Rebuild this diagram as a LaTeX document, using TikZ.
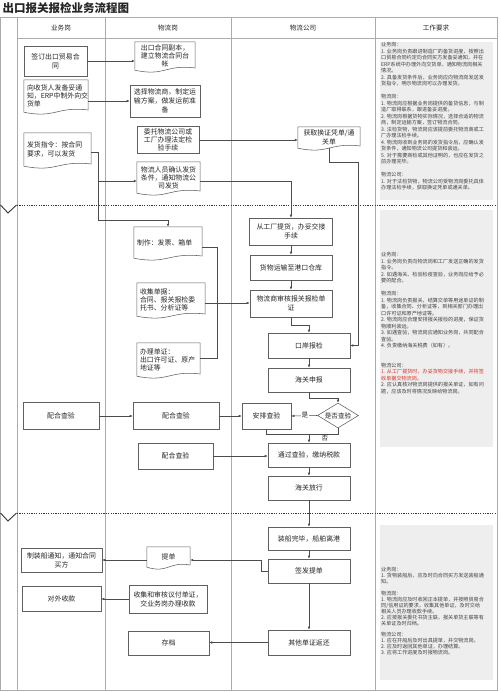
\documentclass[tikz,border=0pt]{standalone}
\usepackage{fontspec}
\setmainfont{Noto Sans CJK SC}
\usetikzlibrary{arrows.meta,calc,shapes.geometric}
\newcommand\boxf{\fontsize{6.9}{8.8}\selectfont}
\newcommand\boxft{\fontsize{6.9}{8.1}\selectfont}
\newcommand\notef{\fontsize{5.1}{6.5}\selectfont}
\newcommand\notefb{\fontsize{5.1}{5.9}\selectfont}
\definecolor{redtxt}{HTML}{D9342B}
\newcommand\docwave[1]{\draw[docline] (#1.south west) -- (#1.north west) -- (#1.north east) -- ($(#1.south east)+(0,-2.2)$) .. controls ($(#1.south)+(0,-6)$) and ($(#1.south)+(0,6.5)$) .. (#1.south west) -- cycle;}
\begin{document}
\begin{tikzpicture}[x=1pt,y=-1pt,
 every node/.style={text=black!85},
 bx/.style={draw=gray!75!black, line width=0.55pt, inner sep=0pt, align=center, font=\boxf},
 dc/.style={inner sep=0pt, align=center, font=\boxf},
 dcl/.style={inner ysep=0pt, inner xsep=3pt, align=left, font=\boxf},
 docline/.style={draw=gray!75!black, line width=0.55pt},
 ln/.style={draw=black!70, line width=0.55pt},
 fl/.style={ln, -{Latex[length=3pt,width=2.6pt]}},
 lane/.style={draw=gray!65, line width=0.7pt},
 phase/.style={draw=black!80, line width=0.9pt, dash pattern=on 1.2pt off 1.2pt},
 hdr/.style={font=\fontsize{6.6}{8}\selectfont, inner sep=0pt},
 note/.style={anchor=north west, align=left, inner sep=0pt, text=black!75},
]
\useasboundingbox (0,0) rectangle (500,692);
\fill[white] (0,0) rectangle (500,692);
% title
\node[anchor=west, font=\fontsize{11.5}{12}\selectfont\bfseries, inner sep=0pt] (title) at (2.5,8.5) {出口报关报检业务流程图};
% note backgrounds
\fill[gray!13] (380,42) rectangle (493,200);
\fill[gray!13] (380,210) rectangle (493,447);
\fill[gray!13] (380,525) rectangle (493,680);
% frame and lanes
\draw[lane] (0.5,17) rectangle (497,690);
\foreach \xx in {17,105,231,375} \draw[lane] (\xx,17) -- (\xx,690);
\draw[lane] (17,38) -- (497,38);
\node[hdr] (h1) at (61,28) {业务岗};
\node[hdr] (h2) at (168,28) {物流岗};
\node[hdr] (h3) at (303,28) {物流公司};
\node[hdr] (h4) at (436,28) {工作要求};
% phase separators
\draw[phase] (17,205) -- (497,205);
\draw[phase] (17,513) -- (497,513);
\draw[black!80, line width=0.9pt] (0.5,205) -- (8,213) -- (16.5,205);
\draw[black!80, line width=0.9pt] (0.5,513) -- (8,521) -- (16.5,513);

% ---------- phase 1 ----------
\node[bx, minimum width=63, minimum height=30] (n1) at (55.5,61) {签订出口贸易合\\同};
\node[dc, font=\boxft, minimum width=60, minimum height=28] (d1) at (165,56) {出口合同副本，\\建立物流合同台\\帐}; \docwave{d1}
\node[dcl, font=\boxft, text width=58, minimum height=32] (d2) at (56,96) {向收货人发备妥通\\知，ERP中制外向交\\货单}; \docwave{d2}
\node[bx, minimum width=70, minimum height=32] (n2) at (165,101) {选择物流商，制定运\\输方案，做发运前准\\备};
\node[bx, font=\boxft, minimum width=62, minimum height=27] (n3) at (168,140) {委托物流公司或\\工厂办理法定检\\验手续};
\node[dc, minimum width=62, minimum height=21] (d3) at (329,137.5) {获取换证凭单/通\\关单}; \docwave{d3}
\node[dcl, text width=61, minimum height=33] (d4) at (57.5,149.5) {发货指令：按合同\\要求，可以发货}; \docwave{d4}
\node[dc, font=\boxft, minimum width=63, minimum height=31] (d5) at (168.5,177.5) {物流人员确认发货\\条件，通知物流公\\司发货}; \docwave{d5}

% ---------- phase 2 ----------
\node[dcl, text width=62, minimum height=31] (d6) at (168,242.5) {制作：发票、箱单}; \docwave{d6}
\node[dcl, font=\boxft, text width=62, minimum height=33] (d7) at (171,299.5) {收集单据：\\合同、报关报检委\\托书、分析证等}; \docwave{d7}
\node[dcl, font=\boxft, text width=57, minimum height=33] (d8) at (168.5,359.5) {办理单证：\\出口许可证、原产\\地证等}; \docwave{d8}
\node[bx, minimum width=83, minimum height=27] (p1) at (291,231.5) {从工厂提货，办妥交接\\手续};
\node[bx, minimum width=82, minimum height=25] (p2) at (291,267.5) {货物运输至港口仓库};
\node[bx, minimum width=82, minimum height=27] (p3) at (291,303.5) {物流商审核报关报检单\\证};
\node[bx, minimum width=82, minimum height=25] (p4) at (309,345.5) {口岸报检};
\node[bx, minimum width=82, minimum height=24] (p5) at (309,380) {海关申报};
\node[draw=gray!75!black, line width=0.55pt, diamond, aspect=1.64, minimum width=41, minimum height=25, inner sep=0pt, font=\fontsize{6.6}{8}\selectfont] (dia) at (338,415.5) {是否查验};
\node[bx, minimum width=49, minimum height=26] (p6) at (266.5,416) {安排查验};
\node[bx, minimum width=82, minimum height=24] (p7) at (309,455) {通过查验，缴纳税款};
\node[bx, minimum width=82, minimum height=24] (p8) at (309,488) {海关放行};
\node[bx, minimum width=76, minimum height=27] (b1) at (61,416) {配合查验};
\node[bx, minimum width=86, minimum height=27] (l1) at (176,416) {配合查验};
\node[bx, minimum width=75, minimum height=26] (l2) at (175.5,456) {配合查验};

% ---------- phase 3 ----------
\node[bx, minimum width=82, minimum height=23] (p9) at (309,538.5) {装船完毕，船舶离港};
\node[bx, minimum width=82, minimum height=24] (p10) at (309,571) {签发提单};
\node[bx, minimum width=82, minimum height=25] (p11) at (309,642.5) {其他单证返还};
\node[dc, minimum width=43, minimum height=20] (d9) at (168.5,557) {提单}; \docwave{d9}
\node[bx, minimum width=81, minimum height=24] (b2) at (61.5,560) {制装船通知，通知合同\\买方};
\node[bx, minimum width=78, minimum height=28] (l3) at (168,599) {收集和审核议付单证，\\交业务岗办理收款};
\node[bx, minimum width=79, minimum height=25] (b3) at (61.5,599) {对外收款};
\node[bx, minimum width=81, minimum height=24] (l4) at (168.5,643) {存档};

% ---------- connectors ----------
\draw[fl] (n1.east) -- (n1.east -| d1.west);
\draw[fl] (d2.east |- n2.west) -- (n2.west);
\draw[fl] (n3.east) -- (n3.east -| d3.west);
\coordinate (c1) at (358,162);
\draw[fl] (d3.south) |- (c1) |- (p4.east);
\coordinate (j1) at (98,152.5);
\coordinate (j2) at (98,181);
\coordinate (j3) at (98,220);
\draw[ln] (d4.east |- j1) -- (j1) -- (j3);
\draw[fl] (j3) -| (d6.north);
\draw[fl] (j2) -- (j2 -| d5.west);
\draw[fl] (j2 -| d5.east) -| (p1.north);
\draw[fl] (p1.south) -- (p2.north);
\draw[fl] (p2.south) -- (p3.north);
\coordinate (k1) at (217,247.5);
\coordinate (k2) at (217,358);
\coordinate (k3) at (217,303);
\draw[ln] (d6.east |- k1) -- (k1) -- (k2) -- (d8.east |- k2);
\draw[ln] (d7.east |- k3) -- (k3);
\draw[fl] (k3) -- (k3 -| p3.west);
\draw[fl] (p3.south) -- ++(0,8) -| (p4.north);
\draw[fl] (p4.south) -- (p5.north);
\draw[fl] (p5.south) -- ++(0,6) -| (dia.north);
\draw[fl] (dia.west) -- (p6.east);
\node[fill=white, inner sep=0.8pt, font=\fontsize{6.6}{8}\selectfont] (yes) at (305,415.5) {是};
\coordinate (m1) at (309,434);
\draw[ln] (dia.south) |- (m1);
\draw[ln] (p6.south) |- (m1);
\draw[fl] (m1) -- (p7.north);
\node[inner sep=0pt, font=\fontsize{6.6}{8}\selectfont] (no) at (325,438.5) {否};
\draw[fl] (p7.south) -- (p8.north);
\draw[fl] (b1.east) -- (l1.west);
\draw[fl] (l1.east) -- (p6.west);
\draw[fl] (l2.east) -- (l2.east -| p7.west);
\draw[fl] (p8.south) -- (p9.north);
\draw[fl] (p9.south) -- (p10.north);
\draw[fl] (p10.south) -- (p11.north);
\coordinate (t1) at (261,560);
\draw[fl] (p10.west) -| (t1) -- (t1 -| d9.east);
\draw[fl] (t1 -| d9.west) -- (t1 -| b2.east);
\draw[fl] (l3.west) -- (l3.west -| b3.east);
\draw[fl] (p11.west) -- (p11.west -| l4.east);

% ---------- notes ----------
\node[note, font=\notef] (note1) at (381,42.5) {业务岗：\\
1. 业务岗负责跟进制造厂的备货进度，按照出\\
口贸易合同约定向合同买方发备妥通知，并在\\
ERP系统中办理外向交货单，通知物流岗相关\\
情况。\\
2. 具备发货条件后，业务岗应向物流岗发送发\\
货指令，明示物流岗可以办理发货。\\[6.5pt]
物流岗：\\
1. 物流岗应根据业务岗提供的备货信息，与制\\
造厂取得联系，跟进备妥进度。\\
2. 物流岗根据货物实际情况，选择合适的物流\\
商，制定运输方案，签订物流合同。\\
3. 法检货物，物流岗应该提前委托物流商或工\\
厂办理法检手续。\\
4. 物流岗收到业务岗的发货指令后，应确认发\\
货条件，通知物流公司提货和装运。\\
5. 对于需要商检或其他证明的，也应在发货之\\
前办理完毕。\\[6.5pt]
物流公司：\\
1. 对于法检货物，物流公司受物流岗委托具体\\
办理法检手续，获取换证凭单或通关单。};
\node[note, font=\notef] (note2) at (381,252.5) {业务岗：\\
1. 业务岗负责向物流岗和工厂发送正确的发货\\
指令。\\
2. 如遇海关、检验检疫查验，业务岗应给予必\\
要的配合。\\[6.5pt]
物流岗：\\
1. 物流岗负责报关、结算交单等用途单证的制\\
备，收集合同、分析证等，到相关部门办理出\\
口许可证和原产地证等。\\
2. 物流岗应合理安排报关报检的进度，保证货\\
物顺利装运。\\
3. 如遇查验，物流岗应通知业务岗，共同配合\\
查验。\\
4. 负责缴纳海关税费（如有）。\\[13pt]
物流公司：\\
\textcolor{redtxt}{1. 从工厂提货时，办妥货物交接手续，并将签}\\
\textcolor{redtxt}{收单据交物流岗。}\\
2. 应认真核对物流岗提供的报关单证，如有问\\
题，应该及时将情况反映给物流岗。};
\node[note, font=\notefb] (note3) at (381,567.5) {业务岗：\\
1. 货物装船后，应及时向合同买方发送装船通\\
知。\\[5.9pt]
物流岗：\\
1. 物流岗应及时收回正本提单，并按照贸易合\\
同/信用证的要求，收集其他单证，及时交给\\
相关人员办理收款手续。\\
2. 应按报关委托书货主联，报关单货主联等有\\
关单证及时归档。\\[5.9pt]
物流公司：\\
1. 应在开船后及时出具提单，并交物流岗。\\
2. 应及时返回其他单证，办理结算。\\
3. 应将工作进度及时报物流岗。};
\end{tikzpicture}
\end{document}
